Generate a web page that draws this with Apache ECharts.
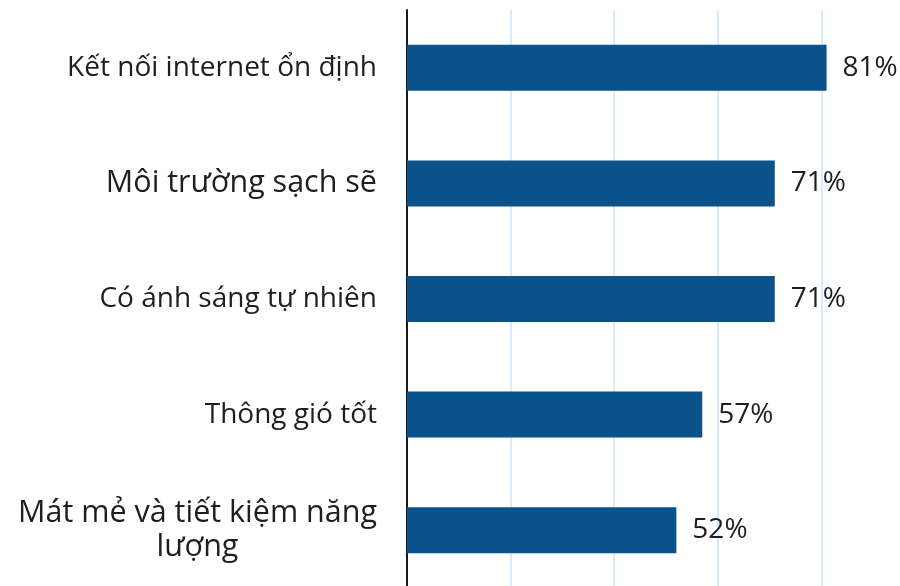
<!DOCTYPE html>
<html><head><meta charset="utf-8">
<script src="https://cdn.jsdelivr.net/npm/echarts@6/dist/echarts.min.js"></script>
<style>html,body{margin:0;padding:0;background:#fff}#c{width:900px;height:586px}</style>
</head><body><div id="c"></div>
<script>
const categories = ["Kết nối internet ổn định", "Môi trường sạch sẽ", "Có ánh sáng tự nhiên", "Thông gió tốt", "Mát mẻ và tiết kiệm năng\nlượng"];
const labelStyles = ["s", "l", "s", "s", "l"];
const values = [81, 71, 71, 57, 52];
const xTicks = [0, 20, 40, 60, 80, 100];

const chart = echarts.init(document.getElementById('c'), null, {renderer: 'canvas'});
const FONT = '"Open Sans", sans-serif';
chart.setOption({
  animation: false,
  grid: {left: 407, right: -25, top: 10, bottom: -2, containLabel: false, outerBoundsMode: 'none'},
  xAxis: {
    type: 'value', min: xTicks[0], max: xTicks[xTicks.length - 1], interval: 20,
    axisLabel: {show: false}, axisLine: {show: false}, axisTick: {show: false},
    splitLine: {show: true, lineStyle: {color: '#cfe3f6', width: 1.5}}
  },
  yAxis: {
    type: 'category', inverse: true, data: categories,
    axisLine: {show: true, lineStyle: {color: '#1a1a1a', width: 2}},
    axisTick: {show: false},
    axisLabel: {
      margin: 30,
      formatter: (v, i) => v.split('\n').map(l => '{' + labelStyles[i] + '|' + l + '}').join('\n'),
      rich: {
        s: {fontFamily: FONT, fontSize: 28, color: '#1e1e1e', align: 'center', lineHeight: 34},
        l: {fontFamily: FONT, fontSize: 30.5, color: '#1e1e1e', align: 'center', lineHeight: 34}
      }
    }
  },
  series: [{
    type: 'bar', data: values, barWidth: 46,
    itemStyle: {color: '#0b528a'},
    label: {show: true, position: 'right', distance: 16, formatter: '{c}%',
      fontFamily: FONT, fontSize: 28, color: '#1e1e1e'}
  }]
});
</script></body></html>
